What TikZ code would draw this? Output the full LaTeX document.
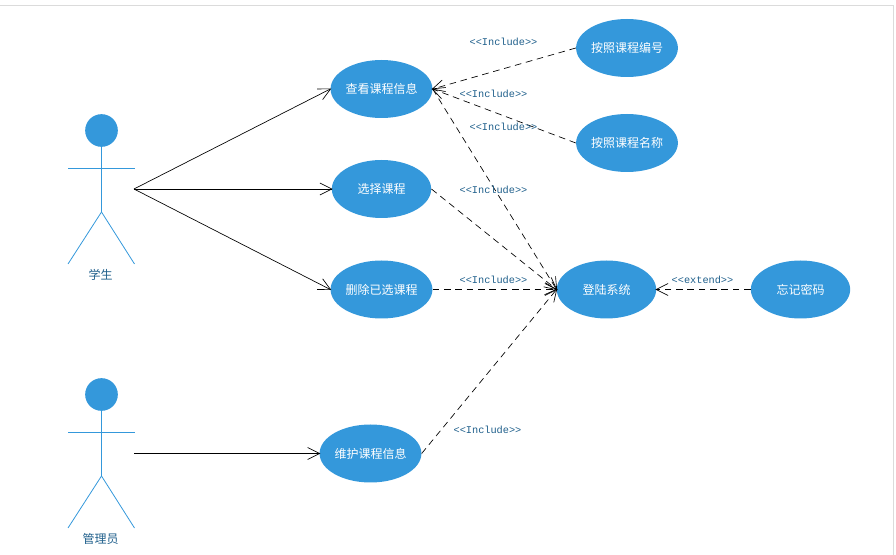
\documentclass[tikz,border=0pt]{standalone}
\usepackage{fontspec}
\setmainfont{Noto Sans CJK SC}
\newfontfamily\labelfont{Liberation Mono}
\usetikzlibrary{arrows.meta, shapes.geometric}
\definecolor{caseblue}{HTML}{3498DB}
\definecolor{labelblue}{HTML}{1F5F8B}
\begin{document}
\begin{tikzpicture}[
    x=0.75pt, y=-0.75pt,
    >={Straight Barb[length=9pt,width=9pt]},
    usecase/.style={
        ellipse, fill=caseblue, text=white, font=\fontsize{9}{11}\selectfont,
        minimum width=74.5pt, minimum height=43.5pt, inner sep=0pt,
    },
    head/.style={circle, fill=caseblue, minimum size=24.5pt, inner sep=0pt},
    limb/.style={draw=caseblue, line width=0.6pt},
    actorname/.style={text=labelblue, font=\fontsize{9}{11}\selectfont, inner sep=0pt},
    arrlbl/.style={text=labelblue, font=\labelfont\fontsize{7.7}{9}\selectfont, inner sep=0pt},
    assoc/.style={->, line width=0.5pt, shorten >=-0.8pt},
    dep/.style={->, line width=0.5pt, shorten >=-0.8pt, dash pattern=on 5pt off 3.5pt},
]
\useasboundingbox (0,0) rectangle (896,555);
\draw[black!14, line width=0.75pt] (0,6) -- (893.5,6) -- (893.5,555);

% Student
\node[head] (stuhead) at (101.5,130.5) {};
\coordinate (stuhip) at (101.5,212);
\coordinate (stularm) at (68,168);
\coordinate (sturarm) at (134.5,168);
\coordinate (stulfoot) at (68,264);
\coordinate (sturfoot) at (134.5,264);
\coordinate (stuhand) at (134,189);
\draw[limb] (stuhead) -- (stuhip) -- (stulfoot);
\draw[limb] (stuhip) -- (sturfoot);
\draw[limb] (stularm) -- (sturarm);
\node[actorname] (stuname) at (100.5,275) {学生};

% Admin
\node[head] (admhead) at (101.5,394.5) {};
\coordinate (admhip) at (101.5,476);
\coordinate (admlarm) at (68,432);
\coordinate (admrarm) at (134.5,432);
\coordinate (admlfoot) at (68,528);
\coordinate (admrfoot) at (134.5,528);
\coordinate (admhand) at (134,453.5);
\draw[limb] (admhead) -- (admhip) -- (admlfoot);
\draw[limb] (admhip) -- (admrfoot);
\draw[limb] (admlarm) -- (admrarm);
\node[actorname] (admname) at (100.5,539) {管理员};

% Use cases
\node[usecase] (view) at (381.5,89) {查看课程信息};
\node[usecase] (choose) at (381.5,189) {选择课程};
\node[usecase] (remove) at (381.5,289.5) {删除已选课程};
\node[usecase] (maintain) at (370.5,453.5) {维护课程信息};
\node[usecase] (bynum) at (627,48) {按照课程编号};
\node[usecase] (byname) at (627,143) {按照课程名称};
\node[usecase] (login) at (606.5,289.5) {登陆系统};
\node[usecase] (forget) at (800.5,289.5) {忘记密码};

% Actor links
\draw[assoc] (stuhand) -- (view.west);
\draw[assoc] (stuhand) -- (choose.west);
\draw[assoc] (stuhand) -- (remove.west);
\draw[assoc] (admhand) -- (maintain.west);

% Dependencies
\draw[dep] (bynum.west) -- (view.east);
\draw[dep] (byname.west) -- (view.east);
\draw[dep] (view.east) -- (login.west);
\draw[dep] (choose.east) -- (login.west);
\draw[dep] (remove.east) -- (login.west);
\draw[dep] (maintain.east) -- (login.west);
\draw[dep] (forget.west) -- (login.east);

% Labels
\node[arrlbl] (lblnum) at (503.5,42) {<<Include>>};
\node[arrlbl] (lblview) at (493.5,94) {<<Include>>};
\node[arrlbl] (lblname) at (503.5,127) {<<Include>>};
\node[arrlbl] (lblchoose) at (493.5,190) {<<Include>>};
\node[arrlbl] (lblremove) at (493.5,280) {<<Include>>};
\node[arrlbl] (lblmaintain) at (487.5,430) {<<Include>>};
\node[arrlbl] (lblextend) at (702.5,280) {<<extend>>};
\end{tikzpicture}
\end{document}
